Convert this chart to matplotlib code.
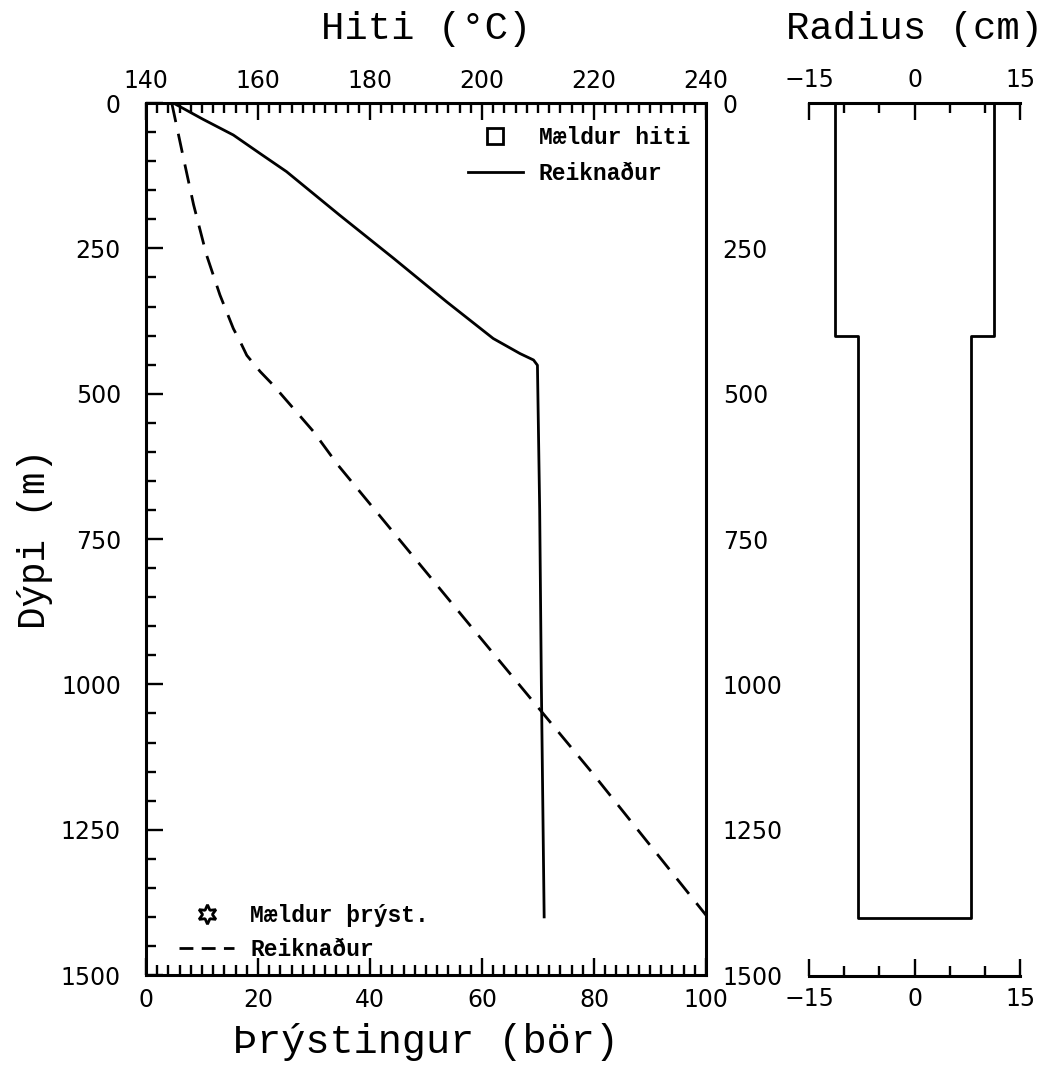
import matplotlib.pyplot as plt
import numpy as np
from matplotlib.lines import Line2D

# computed temperature profile (depth m, temperature degC)
temp_depth = [0, 28, 55, 87, 118, 193, 267, 342, 405, 431, 442, 451, 700, 1000, 1400]
temp_calc = [144.9, 150.2, 155.6, 160.4, 165.1, 174.6, 184.2, 193.7, 202.0, 206.8, 209.2,
             209.9, 210.3, 210.6, 211.1]

# computed pressure profile (depth m, pressure bar)
pres_depth = [0, 95, 175, 261, 330, 388, 410, 434, 462, 485, 565, 623, 900, 1150, 1397]
pres_calc = [4.6, 6.7, 8.5, 10.8, 13.2, 15.6, 16.8, 18.0, 20.4, 22.7, 29.9, 34.3, 58.0,
             79.5, 100.0]

# well casing: section top, section bottom, radius (cm)
casing_top = [0, 400]
casing_bottom = [400, 1400]
casing_radius = [11.3, 8.1]

depth_ticks = [0, 250, 500, 750, 1000, 1250, 1500]
mono = 'Liberation Mono'
LW = 2.0

fig = plt.figure(figsize=(10.45, 10.69), dpi=100)
ax = fig.add_axes([0.1397, 0.0879, 0.5359, 0.8157])
axr = fig.add_axes([0.7742, 0.0870, 0.2019, 0.8166])

# ---- main panel ----
ax.plot(pres_calc, pres_depth, color='black', lw=LW, dashes=(7, 4.3))
ax.set_xlim(0, 100)
ax.set_ylim(1500, 0)
ax.set_xticks(np.arange(0, 101, 20))
ax.set_xticks(np.arange(0, 101, 2), minor=True)
ax.set_yticks(depth_ticks)
ax.set_yticks(np.arange(0, 1501, 50), minor=True)
ax.tick_params(which='both', direction='in', width=1.7, labelsize=17, top=False, right=True)
ax.tick_params(which='major', length=12)
ax.tick_params(which='minor', length=7)
ax.tick_params(axis='y', pad=18)
ax.tick_params(axis='x', pad=9)
for s in ax.spines.values():
    s.set_linewidth(2.2)
ax.set_xlabel('Þrýstingur (bör)', family=mono, fontsize=29, labelpad=8)
ax.set_ylabel('Dýpi (m)', family=mono, fontsize=27, labelpad=6)

# right side depth labels
ay = ax.twinx()
ay.set_ylim(1500, 0)
ay.set_yticks(depth_ticks)
ay.tick_params(direction='in', length=0, labelsize=17, pad=12)
ay.spines[:].set_visible(False)

# temperature on top axis
at = ax.twiny()
at.plot(temp_calc, temp_depth, color='black', lw=LW)
at.set_xlim(140, 240)
at.set_ylim(1500, 0)
at.set_xticks(np.arange(140, 241, 20))
at.set_xticks(np.arange(140, 241, 2), minor=True)
at.tick_params(which='both', direction='in', width=1.7, labelsize=17, pad=7)
at.tick_params(which='major', length=12)
at.tick_params(which='minor', length=7)
at.spines[:].set_visible(False)
at.set_xlabel('Hiti (°C)', family=mono, fontsize=28, labelpad=22)

leg_font = {'family': mono, 'weight': 'bold', 'size': 16.5}
h_top = [Line2D([], [], ls='none', marker='s', mfc='none', mec='black', ms=11, mew=2),
         Line2D([], [], color='black', lw=LW)]
leg1 = at.legend(h_top, ['Mældur hiti', 'Reiknaður'], loc='upper right',
                 bbox_to_anchor=(1.0, 0.992), frameon=False, prop=leg_font,
                 handlelength=2.4, handletextpad=0.7, borderaxespad=0.3, labelspacing=0.55)
h_bot = [Line2D([], [], ls='none', marker=(6, 1, 0), mfc='none', mec='black', ms=14, mew=2),
         Line2D([], [], color='black', lw=LW, dashes=(5, 3))]
leg2 = at.legend(h_bot, ['Mældur þrýst.', 'Reiknaður'], loc='lower left',
                 bbox_to_anchor=(0.035, 0.0), frameon=False, prop=leg_font,
                 handlelength=2.4, handletextpad=0.7, borderaxespad=0.2, labelspacing=0.5)
at.add_artist(leg1)

# ---- radius panel ----
r_out = []
d_out = []
for top, bot, r in zip(casing_top, casing_bottom, casing_radius):
    d_out += [top, bot]
    r_out += [r, r]
xs = [-v for v in r_out] + [v for v in r_out[::-1]]
ys = d_out + d_out[::-1]
axr.plot(xs, ys, color='black', lw=LW)
axr.set_xlim(-15, 15)
axr.set_ylim(1500, 0)
axr.set_yticks([])
axr.set_xticks([-15, 0, 15])
axr.set_xticks(np.arange(-15, 16, 5), minor=True)
axr.tick_params(which='both', direction='in', width=1.7, labelsize=17, top=True,
                labeltop=True, bottom=True, labelbottom=True, pad=8)
axr.tick_params(which='major', length=12)
axr.tick_params(which='minor', length=7)
axr.spines['left'].set_visible(False)
axr.spines['right'].set_visible(False)
axr.spines['top'].set_linewidth(2.2)
axr.spines['bottom'].set_linewidth(2.2)
axr.set_title('Radius (cm)', family=mono, fontsize=28, pad=46)

fig.savefig('out.png', dpi=100)
